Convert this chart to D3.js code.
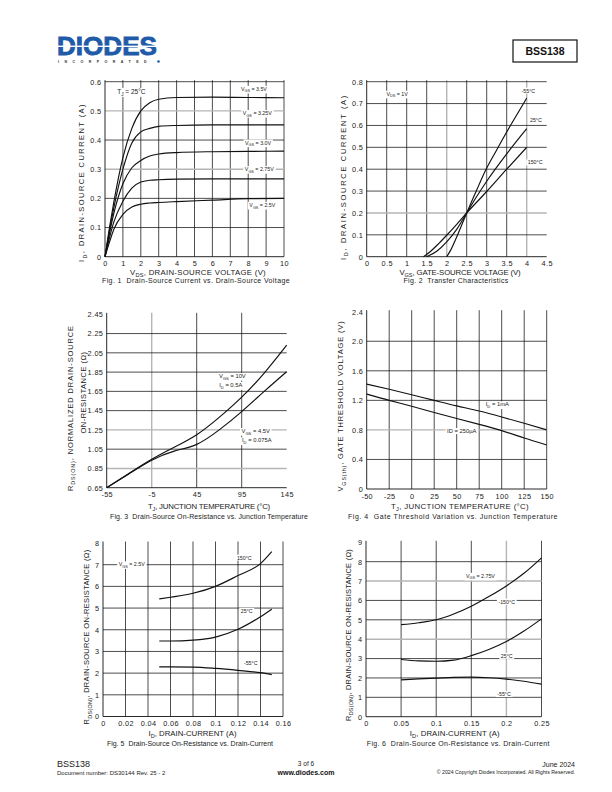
<!DOCTYPE html>
<html>
<head>
<meta charset="utf-8">
<script src="https://cdn.jsdelivr.net/npm/d3@7"></script>
<style>
body { margin: 0; background: #fff; }
svg { display: block; font-family: "Liberation Sans", Arial, sans-serif; }
</style>
</head>
<body>
<div id="page"></div>
<script>
// ---- Fig. 1 data: ID vs VDS for several VGS (TJ = 25C)
var f1Vds = [0, 0.25, 0.5, 1, 1.5, 2, 2.5, 3, 4, 6, 8, 10];
var f1Id350 = [0, 0.10, 0.19, 0.34, 0.44, 0.50, 0.528, 0.540, 0.546, 0.547, 0.546, 0.545];
var f1Id325 = [0, 0.09, 0.17, 0.30, 0.39, 0.428, 0.440, 0.447, 0.450, 0.452, 0.452, 0.452];
var f1Id300 = [0, 0.08, 0.15, 0.25, 0.305, 0.330, 0.345, 0.352, 0.357, 0.360, 0.361, 0.362];
var f1Id275 = [0, 0.065, 0.12, 0.19, 0.235, 0.256, 0.262, 0.264, 0.266, 0.267, 0.267, 0.267];
var f1Id250 = [0, 0.05, 0.095, 0.145, 0.17, 0.18, 0.184, 0.186, 0.189, 0.194, 0.199, 0.200];
var f1XTicks = [0, 1, 2, 3, 4, 5, 6, 7, 8, 9, 10];
var f1YTicks = [0, 0.1, 0.2, 0.3, 0.4, 0.5, 0.6];

// ---- Fig. 2 data: transfer characteristics (VDS = 1V)
var f2VgsM55 = [2, 2.1, 2.25, 2.5, 2.75, 3, 3.25, 3.5, 3.75, 4];
var f2IdM55 = [0, 0.03, 0.09, 0.2, 0.305, 0.405, 0.488, 0.57, 0.648, 0.725];
var f2Vgs25 = [1.5, 1.75, 2, 2.25, 2.5, 2.75, 3, 3.5, 4];
var f2Id25 = [0, 0.025, 0.068, 0.125, 0.2, 0.275, 0.345, 0.47, 0.585];
var f2Vgs150 = [1.42, 1.6, 1.8, 2, 2.25, 2.5, 3, 3.5, 4];
var f2Id150 = [0, 0.025, 0.06, 0.098, 0.148, 0.2, 0.298, 0.4, 0.5];
var f2XTicks = [0, 0.5, 1, 1.5, 2, 2.5, 3, 3.5, 4, 4.5];
var f2YTicks = [0, 0.1, 0.2, 0.3, 0.4, 0.5, 0.6, 0.7, 0.8];

// ---- Fig. 3 data: normalized RDS(ON) vs TJ
var f3Tj = [-55, -30, -5, 20, 45, 70, 95, 120, 145];
var f3R10V = [0.65, 0.80, 0.945, 1.07, 1.2, 1.38, 1.59, 1.84, 2.13];
var f3R45V = [0.65, 0.795, 0.935, 1.03, 1.1, 1.25, 1.44, 1.65, 1.855];
var f3XTicks = [-55, -5, 45, 95, 145];
var f3YTicks = [0.65, 0.85, 1.05, 1.25, 1.45, 1.65, 1.85, 2.05, 2.25, 2.45];

// ---- Fig. 4 data: VGS(th) vs TJ
var f4Tj = [-50, -25, 0, 25, 50, 75, 100, 125, 150];
var f4Vth1mA = [1.42, 1.35, 1.275, 1.2, 1.125, 1.055, 0.975, 0.89, 0.8];
var f4Vth250 = [1.285, 1.2, 1.12, 1.036, 0.955, 0.875, 0.79, 0.69, 0.595];
var f4XTicks = [-50, -25, 0, 25, 50, 75, 100, 125, 150];
var f4YTicks = [0, 0.4, 0.8, 1.2, 1.6, 2.0, 2.4];

// ---- Fig. 5 data: RDS(ON) vs ID, VGS = 2.5V
var f5Id = [0.05, 0.06, 0.08, 0.1, 0.12, 0.14, 0.15];
var f5R150 = [5.42, 5.5, 5.68, 6.0, 6.5, 7.05, 7.6];
var f5R25 = [3.48, 3.48, 3.52, 3.66, 4.02, 4.6, 4.95];
var f5RM55 = [2.29, 2.29, 2.28, 2.22, 2.13, 2.02, 1.93];
var f5XTicks = [0, 0.02, 0.04, 0.06, 0.08, 0.1, 0.12, 0.14, 0.16];
var f5YTicks = [0, 1, 2, 3, 4, 5, 6, 7, 8];

// ---- Fig. 6 data: RDS(ON) vs ID, VGS = 2.75V
var f6Id = [0.05, 0.075, 0.1, 0.125, 0.15, 0.175, 0.2, 0.225, 0.25];
var f6R150 = [4.75, 4.85, 5.0, 5.3, 5.7, 6.2, 6.75, 7.4, 8.2];
var f6R25 = [2.95, 2.88, 2.86, 2.92, 3.15, 3.47, 3.88, 4.42, 5.05];
var f6RM55 = [1.9, 1.95, 1.99, 2.03, 2.04, 2.01, 1.94, 1.83, 1.68];
var f6XTicks = [0, 0.05, 0.1, 0.15, 0.2, 0.25];
var f6YTicks = [0, 1, 2, 3, 4, 5, 6, 7, 8, 9];

var svg = d3.select("#page").append("svg").attr("width", 612).attr("height", 792);

function fmt1(d) { return d === 0 ? "0" : d.toFixed(1); }
function fmt2(d) { return d.toFixed(2); }
function fmtN(d) { return String(+d.toFixed(3)); }

// text with _{sub} parts
function rich(parent, str, fs) {
  var t = parent.append("text").attr("font-size", fs).style("white-space", "pre");
  var shift = 0;
  str.split(/(_\{[^}]*\})/).forEach(function(p) {
    if (!p) return;
    var sub = p.indexOf("_{") === 0;
    var ts = t.append("tspan").text(sub ? p.slice(2, -1) : p);
    var target = sub ? fs * 0.3 : 0;
    if (target !== shift) { ts.attr("dy", target - shift); shift = target; }
    if (sub) ts.attr("font-size", fs * 0.72);
  });
  return t;
}

function fit(t, w) {
  var len = t.node().getComputedTextLength();
  var n = t.text().length;
  if (n > 1) t.attr("letter-spacing", (w - len) / n);
}

function drawChart(c) {
  var x = d3.scaleLinear().domain(c.xDom).range(c.xRng);
  var y = d3.scaleLinear().domain(c.yDom).range(c.yRng);
  var g = svg.append("g");

  // grid
  c.vGrid.forEach(function(v) {
    var gray = c.grayV.indexOf(v) >= 0;
    g.append("line").attr("x1", x(v)).attr("x2", x(v))
      .attr("y1", c.yRng[0]).attr("y2", c.yRng[1] - 1.5)
      .attr("stroke", gray ? "#b5b5b5" : "#111").attr("stroke-width", gray ? 1.4 : 0.75);
  });
  c.hGrid.forEach(function(v) {
    var gray = c.grayH.indexOf(v) >= 0;
    g.append("line").attr("y1", y(v)).attr("y2", y(v))
      .attr("x1", c.xRng[0]).attr("x2", c.xRng[1])
      .attr("stroke", gray ? "#b5b5b5" : "#111").attr("stroke-width", gray ? 1.4 : 0.75);
  });

  // axes
  var xa = g.append("g").attr("transform", "translate(0," + c.yRng[0] + ")")
    .call(d3.axisBottom(x).tickValues(c.xTicks).tickFormat(c.xFmt).tickSize(0).tickPadding(4.6));
  var ya = g.append("g").attr("transform", "translate(" + c.xRng[0] + ",0)")
    .call(d3.axisLeft(y).tickValues(c.yTicks).tickFormat(c.yFmt).tickSize(0).tickPadding(3.5));
  [xa, ya].forEach(function(a) {
    a.select(".domain").remove();
    a.selectAll("text").attr("font-size", 7.3).attr("letter-spacing", 0.35)
      .attr("fill", "#222").attr("font-family", "Liberation Sans, Arial, sans-serif");
  });
  g.append("line").attr("x1", c.xRng[0]).attr("x2", c.xRng[0]).attr("y1", c.yRng[0]).attr("y2", c.yRng[1] - 1.5)
    .attr("stroke", "#111").attr("stroke-width", 0.9);
  g.append("line").attr("x1", c.xRng[0]).attr("x2", c.xRng[1]).attr("y1", c.yRng[0]).attr("y2", c.yRng[0])
    .attr("stroke", "#111").attr("stroke-width", 0.9);

  // curves
  var line = d3.line().x(function(d) { return x(d[0]); }).y(function(d) { return y(d[1]); })
    .curve(c.curve || d3.curveMonotoneX);
  c.series.forEach(function(s) {
    g.append("path").attr("d", line(d3.zip(s[0], s[1])))
      .attr("fill", "none").attr("stroke", "#111").attr("stroke-width", 1.15);
  });

  // notes on plot (data coordinates)
  c.notes.forEach(function(n) {
    var t = rich(g, n[0], n[3]).attr("x", x(n[1])).attr("y", y(n[2]) + n[3] * 0.35)
      .attr("text-anchor", "middle").attr("fill", "#222");
    var b = t.node().getBBox();
    g.insert("rect", function() { return t.node(); })
      .attr("x", b.x - 1.5).attr("y", b.y).attr("width", b.width + 3).attr("height", b.height)
      .attr("fill", "#fff");
  });

  // axis titles and caption
  var xl = rich(svg, c.xLabel[0], 7.8).attr("x", c.xLabel[1]).attr("y", c.xLabel[2])
    .attr("text-anchor", "middle").attr("fill", "#222");
  fit(xl, c.xLabel[3]);
  var cap = rich(svg, c.caption[0], 7).attr("x", c.caption[1]).attr("y", c.caption[2])
    .attr("text-anchor", "middle").attr("fill", "#222");
  fit(cap, c.caption[3]);
  c.yLabels.forEach(function(l) {
    var yl = rich(svg.append("g").attr("transform", "translate(" + (l[1] + 2.7) + "," + l[2] + ") rotate(-90)"), l[0], 7.5)
      .attr("text-anchor", "middle").attr("fill", "#222");
    fit(yl, l[3]);
  });
}

var charts = [
  { xDom: [0, 10], xRng: [105, 284], yDom: [0, 0.6], yRng: [256.7, 81.7],
    xTicks: f1XTicks, yTicks: f1YTicks, xFmt: fmtN, yFmt: fmt1,
    vGrid: f1XTicks.slice(1), hGrid: f1YTicks.slice(1), grayV: [], grayH: [0.5, 0.3],
    series: [[f1Vds, f1Id350], [f1Vds, f1Id325], [f1Vds, f1Id300], [f1Vds, f1Id275], [f1Vds, f1Id250]],
    notes: [["V_{GS} = 3.5V", 8.32, 0.575, 5.3], ["V_{GS} = 3.25V", 8.51, 0.492, 5.3],
            ["V_{GS} = 3.0V", 8.55, 0.391, 5.3], ["V_{GS} = 2.75V", 8.62, 0.300, 5.3],
            ["V_{GS} = 2.5V", 8.79, 0.177, 5.3], ["T_{J} = 25°C", 1.47, 0.566, 6.5]],
    xLabel: ["V_{DS}, DRAIN-SOURCE VOLTAGE (V)", 198, 274.5, 136],
    caption: ["Fig. 1  Drain-Source Current vs. Drain-Source Voltage", 196, 282.7, 188],
    yLabels: [["I_{D}, DRAIN-SOURCE CURRENT (A)", 81.7, 182.5, 159]] },
  { xDom: [0, 4.5], xRng: [366.7, 546.7], yDom: [0, 0.8], yRng: [256.7, 81.7],
    xTicks: f2XTicks, yTicks: f2YTicks, xFmt: fmtN, yFmt: fmt1,
    vGrid: f2XTicks.slice(1, -1), hGrid: f2YTicks.slice(1), grayV: [2, 4], grayH: [0.2],
    series: [[f2VgsM55, f2IdM55], [f2Vgs25, f2Id25], [f2Vgs150, f2Id150]],
    notes: [["V_{DS} = 1V", 0.76, 0.744, 5.3], ["-55°C", 4.04, 0.759, 5.3],
            ["25°C", 4.23, 0.622, 5.3], ["150°C", 4.21, 0.430, 5.3]],
    xLabel: ["V_{GS}, GATE-SOURCE VOLTAGE (V)", 460, 274.5, 121],
    caption: ["Fig. 2  Transfer Characteristics", 456, 282.7, 105],
    yLabels: [["I_{D}, DRAIN-SOURCE CURRENT (A)", 343, 177, 166]] },
  { xDom: [-55, 145], xRng: [106.7, 286.7], yDom: [0.65, 2.45], yRng: [487.7, 314.3],
    xTicks: f3XTicks, yTicks: f3YTicks, xFmt: fmtN, yFmt: fmt2, curve: d3.curveNatural,
    vGrid: [-5, 45, 95], hGrid: f3YTicks.slice(1, -1), grayV: [-5], grayH: [1.25, 0.85],
    series: [[f3Tj, f3R10V], [f3Tj, f3R45V]],
    notes: [["V_{GS} = 10V", 84.6, 1.81, 5.8], ["I_{D} = 0.5A", 82.8, 1.716, 5.8],
            ["V_{GS} = 4.5V", 110.6, 1.239, 5.8], ["I_{D} = 0.075A", 111.7, 1.142, 5.8]],
    xLabel: ["T_{J}, JUNCTION TEMPERATURE (°C)", 209, 509, 122],
    caption: ["Fig. 3  Drain-Source On-Resistance vs. Junction Temperature", 209, 519.3, 198],
    yLabels: [["R_{DS(ON)}, NORMALIZED DRAIN-SOURCE", 70, 408, 166],
              ["ON-RESISTANCE (Ω)", 83.3, 392.5, 82]] },
  { xDom: [-50, 150], xRng: [366.7, 546.7], yDom: [0, 2.4], yRng: [489, 311.7],
    xTicks: f4XTicks, yTicks: f4YTicks, xFmt: fmtN, yFmt: fmt1, curve: d3.curveNatural,
    vGrid: f4XTicks.slice(1), hGrid: f4YTicks.slice(1, -1), grayV: [], grayH: [0.8],
    series: [[f4Tj, f4Vth1mA], [f4Tj, f4Vth250]],
    notes: [["I_{D} = 1mA", 95.1, 1.146, 5.8], ["ID = 250µA", 55.6, 0.785, 5.8]],
    xLabel: ["T_{J}, JUNCTION TEMPERATURE (°C)", 460, 509, 138],
    caption: ["Fig. 4  Gate Threshold Variation vs. Junction Temperature", 453, 519.3, 210],
    yLabels: [["V_{GS(th)}, GATE THRESHOLD VOLTAGE (V)", 340.7, 406, 171]] },
  { xDom: [0, 0.16], xRng: [103, 283], yDom: [0, 8], yRng: [716.5, 543],
    xTicks: f5XTicks, yTicks: f5YTicks, xFmt: fmtN, yFmt: fmtN,
    vGrid: f5XTicks.slice(1), hGrid: f5YTicks.slice(1, -1), grayV: [], grayH: [],
    series: [[f5Id, f5R150], [f5Id, f5R25], [f5Id, f5RM55]],
    notes: [["V_{GS} = 2.5V", 0.0255, 7.01, 5.3], ["150°C", 0.1256, 7.32, 5.3],
            ["25°C", 0.1277, 4.86, 5.3], ["-55°C", 0.1313, 2.45, 5.3]],
    xLabel: ["I_{D}, DRAIN-CURRENT (A)", 192.5, 735.5, 88],
    caption: ["Fig. 5  Drain-Source On-Resistance vs. Drain-Current", 190, 745.5, 166],
    yLabels: [["R_{DS(ON)}, DRAIN-SOURCE ON-RESISTANCE (Ω)", 86.7, 637, 175]] },
  { xDom: [0, 0.25], xRng: [366, 541.5], yDom: [0, 9], yRng: [716.7, 542.3],
    xTicks: f6XTicks, yTicks: f6YTicks, xFmt: fmtN, yFmt: fmtN,
    vGrid: f6XTicks.slice(1), hGrid: f6YTicks.slice(1, -1), grayV: [0.2], grayH: [7, 4],
    series: [[f6Id, f6R150], [f6Id, f6R25], [f6Id, f6RM55]],
    notes: [["V_{GS} = 2.75V", 0.163, 7.26, 5.3], ["-150°C", 0.2004, 5.93, 5.3],
            ["25°C", 0.2004, 3.13, 5.3], ["-55°C", 0.1966, 1.16, 5.3]],
    xLabel: ["I_{D}, DRAIN-CURRENT (A)", 454.7, 735.5, 90],
    caption: ["Fig. 6  Drain-Source On-Resistance vs. Drain-Current", 458.3, 745.5, 183],
    yLabels: [["R_{DS(ON)}, DRAIN-SOURCE ON-RESISTANCE (Ω)", 348.3, 635, 172]] }
];
charts.forEach(drawChart);

// ---- header
svg.append("text").attr("x", 57).attr("y", 55).text("DIODES")
  .attr("font-size", 26).attr("font-weight", "bold").attr("fill", "#1f5ba8")
  .attr("stroke", "#1f5ba8").attr("stroke-width", 0.9)
  .attr("textLength", 100).attr("lengthAdjust", "spacingAndGlyphs");
svg.append("rect").attr("x", 56).attr("y", 45.6).attr("width", 104).attr("height", 1.4).attr("fill", "#fff");
var inc = svg.append("text").attr("x", 58).attr("y", 63).text("INCORPORATED")
  .attr("font-size", 3.6).attr("font-weight", "bold").attr("fill", "#333");
fit(inc, 94);
svg.append("circle").attr("cx", 158.5).attr("cy", 61.5).attr("r", 1.3).attr("fill", "#1f5ba8");

svg.append("rect").attr("x", 513).attr("y", 40).attr("width", 64).attr("height", 22)
  .attr("fill", "none").attr("stroke", "#111").attr("stroke-width", 1.2);
svg.append("text").attr("x", 545).attr("y", 55).attr("text-anchor", "middle").text("BSS138")
  .attr("font-size", 10.5).attr("font-weight", "bold").attr("fill", "#111");

// ---- footer
svg.append("text").attr("x", 57).attr("y", 767).text("BSS138").attr("font-size", 9).attr("fill", "#222");
svg.append("text").attr("x", 57).attr("y", 775).text("Document number: DS30144 Rev. 25 - 2")
  .attr("font-size", 6).attr("fill", "#222");
svg.append("text").attr("x", 306).attr("y", 766).attr("text-anchor", "middle").text("3 of 6")
  .attr("font-size", 6.5).attr("fill", "#222");
svg.append("text").attr("x", 306).attr("y", 775).attr("text-anchor", "middle").text("www.diodes.com")
  .attr("font-size", 7).attr("font-weight", "bold").attr("fill", "#111");
svg.append("text").attr("x", 575).attr("y", 766.5).attr("text-anchor", "end").text("June 2024")
  .attr("font-size", 7).attr("fill", "#222");
svg.append("text").attr("x", 575).attr("y", 774).attr("text-anchor", "end")
  .text("© 2024 Copyright Diodes Incorporated. All Rights Reserved.")
  .attr("font-size", 5.2).attr("fill", "#222");
</script>
</body>
</html>
